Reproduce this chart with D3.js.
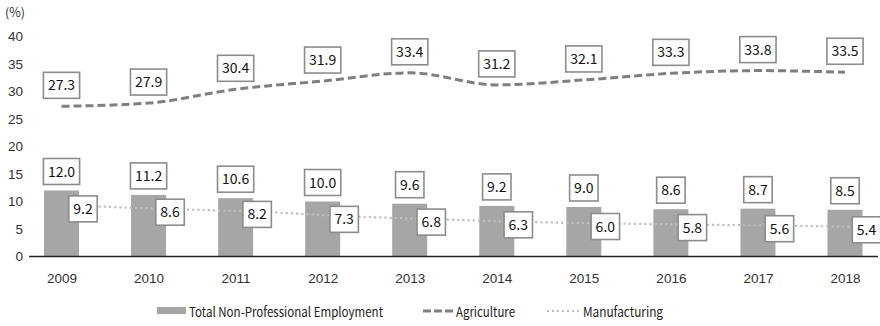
<!DOCTYPE html>
<html lang="en">
<head>
<meta charset="utf-8">
<script src="https://d3js.org/d3.v7.min.js"></script>
<style>
  body { margin: 0; background: #fff; }
  svg { display: block; font-family: "Noto Sans CJK KR", "Noto Sans", sans-serif; }
</style>
</head>
<body>
<div id="canvas"></div>
<script>
// chart data
var years = ["2009", "2010", "2011", "2012", "2013", "2014", "2015", "2016", "2017", "2018"];
var totalNonProf = [12.0, 11.2, 10.6, 10.0, 9.6, 9.2, 9.0, 8.6, 8.7, 8.5];
var agriculture = [27.3, 27.9, 30.4, 31.9, 33.4, 31.2, 32.1, 33.3, 33.8, 33.5];
var manufacturing = [9.2, 8.6, 8.2, 7.3, 6.8, 6.3, 6.0, 5.8, 5.6, 5.4];
var yTicks = [0, 5, 10, 15, 20, 25, 30, 35, 40];
var legendNames = ["Total Non-Professional Employment", "Agriculture", "Manufacturing"];

var width = 880, height = 326;

var svg = d3.select("#canvas").append("svg")
  .attr("width", width)
  .attr("height", height);

var x = d3.scalePoint()
  .domain(years)
  .range([61.5, 845]);

var y = d3.scaleLinear()
  .domain([0, 40])
  .range([256.5, 36.5]);

var barW = 35;
var grey = "#a6a6a6";
var lineGrey = "#7f7f7f";

// y tick labels (no axis line)
var yAxis = svg.append("g")
  .attr("transform", "translate(23,0)")
  .call(d3.axisLeft(y).tickValues(yTicks).tickSize(0).tickPadding(0));
yAxis.select(".domain").remove();
yAxis.selectAll("text")
  .attr("font-size", 13.5)
  .attr("fill", "#333")
  .attr("font-family", null);

svg.append("text")
  .attr("x", 5)
  .attr("y", 17)
  .attr("font-size", 12.5)
  .attr("fill", "#333")
  .text("(%)");

// bars
svg.selectAll("rect.bar")
  .data(totalNonProf)
  .enter().append("rect")
  .attr("class", "bar")
  .attr("x", function(d, i) { return x(years[i]) - barW / 2; })
  .attr("y", function(d) { return y(d); })
  .attr("width", barW)
  .attr("height", function(d) { return y(0) - y(d); })
  .attr("fill", grey);

// baseline + year labels
var xAxis = svg.append("g")
  .attr("transform", "translate(0," + y(0) + ")")
  .call(d3.axisBottom(x).tickSize(0).tickPadding(17));
xAxis.select(".domain").remove();
xAxis.selectAll("text")
  .attr("font-size", 13.5)
  .attr("fill", "#333")
  .attr("font-family", null);
svg.append("line")
  .attr("x1", 29).attr("x2", 878)
  .attr("y1", y(0)).attr("y2", y(0))
  .attr("stroke", "#222")
  .attr("stroke-width", 1.5);

// manufacturing dotted line
var mOff = 21.5;
svg.append("path")
  .datum(manufacturing)
  .attr("d", d3.line()
    .x(function(d, i) { return x(years[i]) + mOff; })
    .y(function(d) { return y(d); }))
  .attr("fill", "none")
  .attr("stroke", "#bfbfbf")
  .attr("stroke-width", 2.2)
  .attr("stroke-dasharray", "2.2,3");

// agriculture dashed line
svg.append("path")
  .datum(agriculture)
  .attr("d", d3.line()
    .curve(d3.curveMonotoneX)
    .x(function(d, i) { return x(years[i]); })
    .y(function(d) { return y(d); }))
  .attr("fill", "none")
  .attr("stroke", lineGrey)
  .attr("stroke-width", 3)
  .attr("stroke-dasharray", "8,4");

// boxed value labels
function boxLabel(cx, cy, txt) {
  var g = svg.append("g");
  var t = g.append("text")
    .attr("x", cx)
    .attr("y", cy + 5)
    .attr("text-anchor", "middle")
    .attr("font-size", 14)
    .attr("fill", "#111")
    .text(txt);
  var w = t.node().getComputedTextLength() + 9;
  g.insert("rect", "text")
    .attr("x", cx - w / 2)
    .attr("y", cy - 13)
    .attr("width", w)
    .attr("height", 26)
    .attr("fill", "#fff")
    .attr("stroke", "#8c8c8c")
    .attr("stroke-width", 1.6);
}

totalNonProf.forEach(function(d, i) {
  boxLabel(x(years[i]), y(d) - 19, d.toFixed(1));
});
manufacturing.forEach(function(d, i) {
  boxLabel(x(years[i]) + mOff, y(d) + 3, d.toFixed(1));
});
agriculture.forEach(function(d, i) {
  boxLabel(x(years[i]), y(d) - 21, d.toFixed(1));
});

// legend
var ly = 313;
svg.append("rect")
  .attr("x", 157).attr("y", ly - 6)
  .attr("width", 29).attr("height", 7)
  .attr("fill", grey);
svg.append("text")
  .attr("x", 189).attr("y", ly + 4)
  .attr("font-size", 13.5).attr("fill", "#222")
  .attr("textLength", 194).attr("lengthAdjust", "spacingAndGlyphs")
  .text(legendNames[0]);
svg.append("line")
  .attr("x1", 423).attr("x2", 453)
  .attr("y1", ly - 2).attr("y2", ly - 2)
  .attr("stroke", lineGrey).attr("stroke-width", 3)
  .attr("stroke-dasharray", "8,3");
svg.append("text")
  .attr("x", 456).attr("y", ly + 4)
  .attr("font-size", 13.5).attr("fill", "#222")
  .attr("textLength", 59).attr("lengthAdjust", "spacingAndGlyphs")
  .text(legendNames[1]);
svg.append("line")
  .attr("x1", 547).attr("x2", 580)
  .attr("y1", ly - 2).attr("y2", ly - 2)
  .attr("stroke", "#bfbfbf").attr("stroke-width", 2)
  .attr("stroke-dasharray", "2,3");
svg.append("text")
  .attr("x", 583).attr("y", ly + 4)
  .attr("font-size", 13.5).attr("fill", "#222")
  .attr("textLength", 80).attr("lengthAdjust", "spacingAndGlyphs")
  .text(legendNames[2]);
</script>
</body>
</html>
